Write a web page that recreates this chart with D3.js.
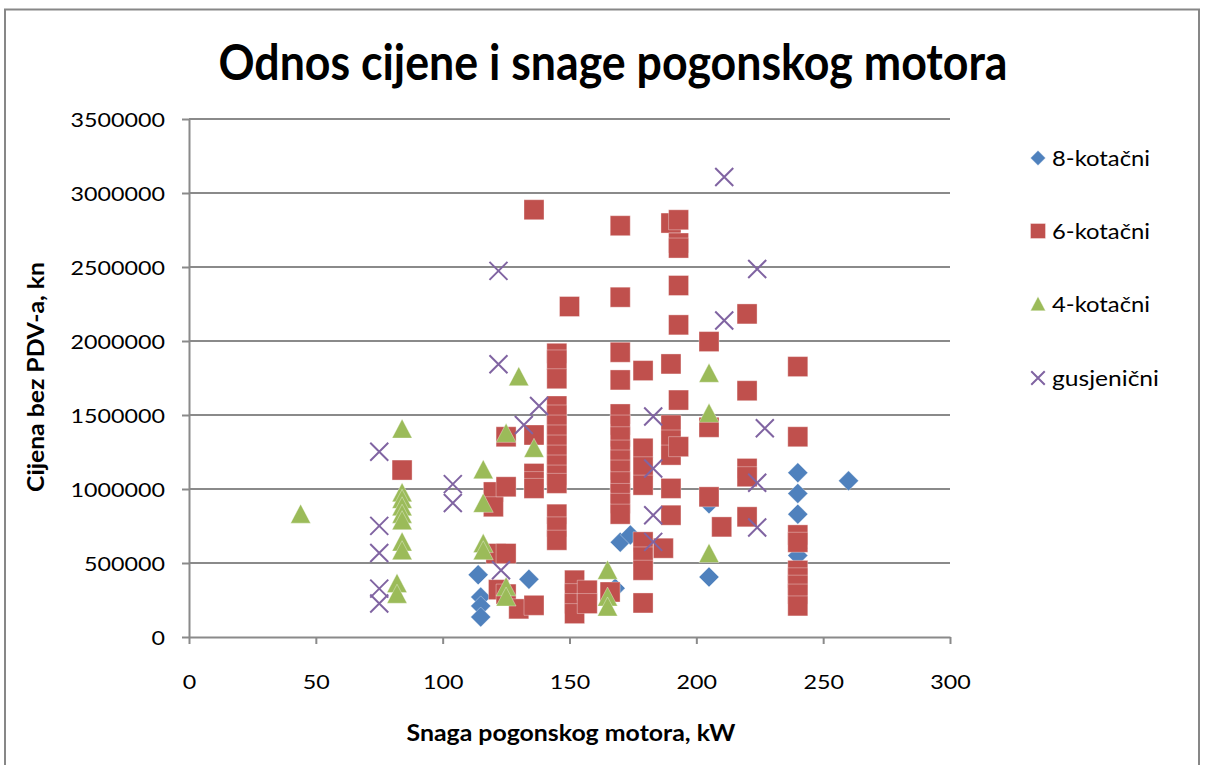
<!DOCTYPE html>
<html>
<head>
<meta charset="utf-8">
<script src="https://cdn.jsdelivr.net/npm/d3@7"></script>
<style>
    body { margin: 0; background: #fff; }
    svg { display: block; font-family: Lato, "Open Sans", sans-serif; }
</style>
</head>
<body>
<svg class="chart"></svg>
<script>
'use strict';

var CHART_WIDTH = 1206;
var CHART_HEIGHT = 765;
var PLOT = { left: 189, right: 950, top: 119, bottom: 637 };
var DIGIT_WIDTH = 13.5;

// series names and colours (Excel 2007 defaults)
var SERIES_NAMES = ["8-kotačni", "6-kotačni", "4-kotačni", "gusjenični"];
var SERIES_COLORS = ["#4F81BD", "#C0504D", "#9BBB59", "#8064A2"];
var SERIES_SHAPES = ["diamond", "square", "triangle", "cross"];
var LEGEND_WIDTHS = [98, 98, 98, 107];

// axis ticks
var X_TICKS = [0, 50, 100, 150, 200, 250, 300];
var Y_TICKS = [0, 500000, 1000000, 1500000, 2000000, 2500000, 3000000, 3500000];

// 8-kotačni
var POWER_8 = [114, 115, 115, 115, 134, 168, 170, 174, 205, 205, 240, 240, 240, 240, 240, 260];
var PRICE_8 = [420000, 270000, 210000, 135000, 390000, 330000, 640000, 690000, 405000, 900000,
    1110000, 970000, 830000, 600000, 550000, 1055000];

// 6-kotačni
var POWER_6 = [84, 120, 120, 121, 122, 125, 125, 125, 125, 130,
    136, 136, 136, 136, 136, 136,
    145, 145, 145, 145, 145, 145, 145, 145, 145, 145, 145, 145, 145, 145, 145,
    150, 152, 152, 152, 152, 157, 157, 166,
    170, 170, 170, 170, 170, 170, 170, 170, 170, 170, 170, 170, 170, 170,
    179, 179, 179, 179, 179, 179, 179, 179,
    187,
    190, 190, 190, 190, 190, 190, 190,
    193, 193, 193, 193, 193, 193, 193,
    205, 205, 205, 210,
    220, 220, 220, 220, 220,
    240, 240, 240, 240, 240, 240, 240, 240, 240];
var PRICE_6 = [1128000, 980000, 880000, 564000, 320000, 1353000, 1015000, 564000, 290000, 190000,
    2887000, 1365000, 1105000, 1050000, 1004000, 214000,
    1917000, 1872000, 1745000, 1561000, 1500000, 1432000, 1365000, 1297000, 1229000, 1162000,
    1094000, 1038000, 830000, 744000, 654000,
    2233000, 384000, 293000, 226000, 158000, 316000, 226000, 304000,
    2779000, 2296000, 1924000, 1737000, 1507000, 1432000, 1353000, 1263000, 1196000, 1128000,
    1049000, 970000, 903000, 830000,
    1800000, 1275000, 1150000, 1026000, 643000, 541000, 451000, 230000,
    600000,
    2797000, 1845000, 1432000, 1331000, 1229000, 1004000, 823000,
    2819000, 2662000, 2628000, 2375000, 2109000, 1601000, 1286000,
    1996000, 1417000, 947000, 744000,
    2183000, 1664000, 1139000, 1083000, 812000,
    1827000, 1353000, 690000, 640000, 450000, 400000, 350000, 290000, 210000];

// 4-kotačni
var POWER_4 = [44, 82, 82, 84, 84, 84, 84, 84, 84, 84, 84, 116, 116, 116, 116,
    125, 125, 125, 130, 136, 165, 165, 165, 205, 205, 205];
var PRICE_4 = [830000, 361000, 289000, 1405000, 974000, 930000, 880000, 830000, 786000, 642000, 583000,
    1130000, 903000, 631000, 583000, 1376000, 338000, 270000, 1759000, 1275000,
    451000, 270000, 203000, 1782000, 1511000, 564000];

// gusjenični
var POWER_G = [75, 75, 75, 75, 75, 104, 104, 122, 122, 123, 132, 138,
    183, 183, 183, 183, 211, 211, 224, 224, 224, 227];
var PRICE_G = [1252000, 751000, 568000, 327000, 226000, 1033000, 905000, 2474000, 1843000, 451000,
    1432000, 1561000, 1490000, 1139000, 823000, 643000, 3108000, 2138000, 2486000, 1042000,
    740000, 1410000];

var SERIES_POWER = [POWER_8, POWER_6, POWER_4, POWER_G];
var SERIES_PRICE = [PRICE_8, PRICE_6, PRICE_4, PRICE_G];

var xScale = d3.scaleLinear().domain([0, 300]).range([PLOT.left, PLOT.right]);
var yScale = d3.scaleLinear().domain([0, 3500000]).range([PLOT.bottom, PLOT.top]);

var chart = d3.select(".chart")
    .attr("width", CHART_WIDTH)
    .attr("height", CHART_HEIGHT);

renderFrame(chart);
renderGrid(chart);
renderAxes(chart);
renderPoints(chart);
renderTitles(chart);
renderLegend(chart);

/**
 * Outer chart border
 */
function renderFrame(chart) {
    chart.append("rect")
        .attr("x", 5)
        .attr("y", 9.5)
        .attr("width", 1194)
        .attr("height", 820)
        .attr("fill", "#fff")
        .attr("stroke", "#878787")
        .attr("stroke-width", 2);
}

/**
 * Horizontal gridlines
 */
function renderGrid(chart) {
    chart.append("g")
        .selectAll("line")
        .data(Y_TICKS.slice(1))
        .enter()
        .append("line")
        .attr("x1", PLOT.left)
        .attr("x2", PLOT.right)
        .attr("y1", function (d) { return yScale(d); })
        .attr("y2", function (d) { return yScale(d); })
        .attr("stroke", "#8a8a8a")
        .attr("stroke-width", 2);
}

/**
 * X and Y axes with tick labels
 */
function renderAxes(chart) {
    var xAxis = d3.axisBottom(xScale)
        .tickValues(X_TICKS)
        .tickSize(7)
        .tickSizeOuter(0)
        .tickFormat(d3.format("d"));
    var yAxis = d3.axisLeft(yScale)
        .tickValues(Y_TICKS)
        .tickSize(7)
        .tickSizeOuter(0)
        .tickFormat(d3.format("d"));

    var gx = chart.append("g")
        .attr("transform", "translate(0," + PLOT.bottom + ")")
        .call(xAxis);
    var gy = chart.append("g")
        .attr("transform", "translate(" + PLOT.left + ",0)")
        .call(yAxis);

    [gx, gy].forEach(function (g) {
        g.select(".domain").attr("stroke", "#8a8a8a").attr("stroke-width", 2);
        g.selectAll(".tick line").attr("stroke", "#8a8a8a").attr("stroke-width", 2);
        g.selectAll(".tick text")
            .attr("fill", "#000")
            .style("font-family", "Lato, sans-serif")
            .style("font-size", "19.5px")
            .attr("textLength", function (d) { return String(d).length * DIGIT_WIDTH; })
            .attr("lengthAdjust", "spacingAndGlyphs");
    });

    gx.selectAll(".tick text").attr("y", 52).attr("dy", null);
    gy.selectAll(".tick text").attr("x", -24).attr("dy", "0.36em");
}

/**
 * Marker path for each series shape
 */
function markerPath(shape) {
    if (shape === "diamond") return "M0,-10L10,0L0,10L-10,0Z";
    if (shape === "square") return "M-10,-10H10V10H-10Z";
    if (shape === "triangle") return "M0,-10L10,9H-10Z";
    return "M-9,-9L9,9M-9,9L9,-9";
}

/**
 * Draw a marker into a group
 */
function drawMarker(g, i, scale) {
    var shape = SERIES_SHAPES[i];
    var p = g.append("path")
        .attr("d", markerPath(shape))
        .attr("transform", "scale(" + scale + ")");
    if (shape === "cross") {
        p.attr("fill", "none")
            .attr("stroke", SERIES_COLORS[i])
            .attr("stroke-width", 2 / scale);
    } else {
        p.attr("fill", SERIES_COLORS[i])
            .attr("stroke", "rgba(255,255,255,0.35)")
            .attr("stroke-width", 1 / scale);
    }
}

/**
 * Render the data points, series in order so later ones sit on top
 */
function renderPoints(chart) {
    SERIES_NAMES.forEach(function (name, i) {
        var rows = SERIES_POWER[i].map(function (p, j) {
            return { power: p, price: SERIES_PRICE[i][j] };
        });
        chart.append("g")
            .attr("class", "series")
            .selectAll("g")
            .data(rows)
            .enter()
            .append("g")
            .attr("transform", function (d) {
                return "translate(" + xScale(d.power) + "," + yScale(d.price) + ")";
            })
            .each(function () {
                drawMarker(d3.select(this), i, 1);
            });
    });
}

/**
 * Chart title and axis titles
 */
function renderTitles(chart) {
    chart.append("text")
        .attr("x", 613)
        .attr("y", 80)
        .attr("text-anchor", "middle")
        .style("font-size", "49px")
        .style("font-weight", "bold")
        .attr("textLength", 789)
        .attr("lengthAdjust", "spacingAndGlyphs")
        .text("Odnos cijene i snage pogonskog motora");

    chart.append("text")
        .attr("x", 571)
        .attr("y", 741)
        .attr("text-anchor", "middle")
        .style("font-size", "22px")
        .style("font-weight", "bold")
        .attr("textLength", 329)
        .attr("lengthAdjust", "spacingAndGlyphs")
        .text("Snaga pogonskog motora, kW");

    chart.append("text")
        .attr("transform", "translate(44,377) rotate(-90)")
        .attr("text-anchor", "middle")
        .style("font-size", "22px")
        .style("font-weight", "bold")
        .attr("textLength", 230)
        .attr("lengthAdjust", "spacingAndGlyphs")
        .text("Cijena bez PDV-a, kn");
}

/**
 * Legend on the right
 */
function renderLegend(chart) {
    var rowsY = [158, 231, 304, 378];
    var item = chart.append("g")
        .selectAll("g")
        .data(SERIES_NAMES)
        .enter()
        .append("g")
        .attr("transform", function (d, i) { return "translate(1038," + rowsY[i] + ")"; });

    item.each(function (d, i) {
        drawMarker(d3.select(this), i, 0.75);
    });

    item.append("text")
        .attr("x", 14)
        .attr("y", 7.5)
        .style("font-size", "21px")
        .attr("textLength", function (d, i) { return LEGEND_WIDTHS[i]; })
        .attr("lengthAdjust", "spacingAndGlyphs")
        .text(function (d) { return d; });
}
</script>
</body>
